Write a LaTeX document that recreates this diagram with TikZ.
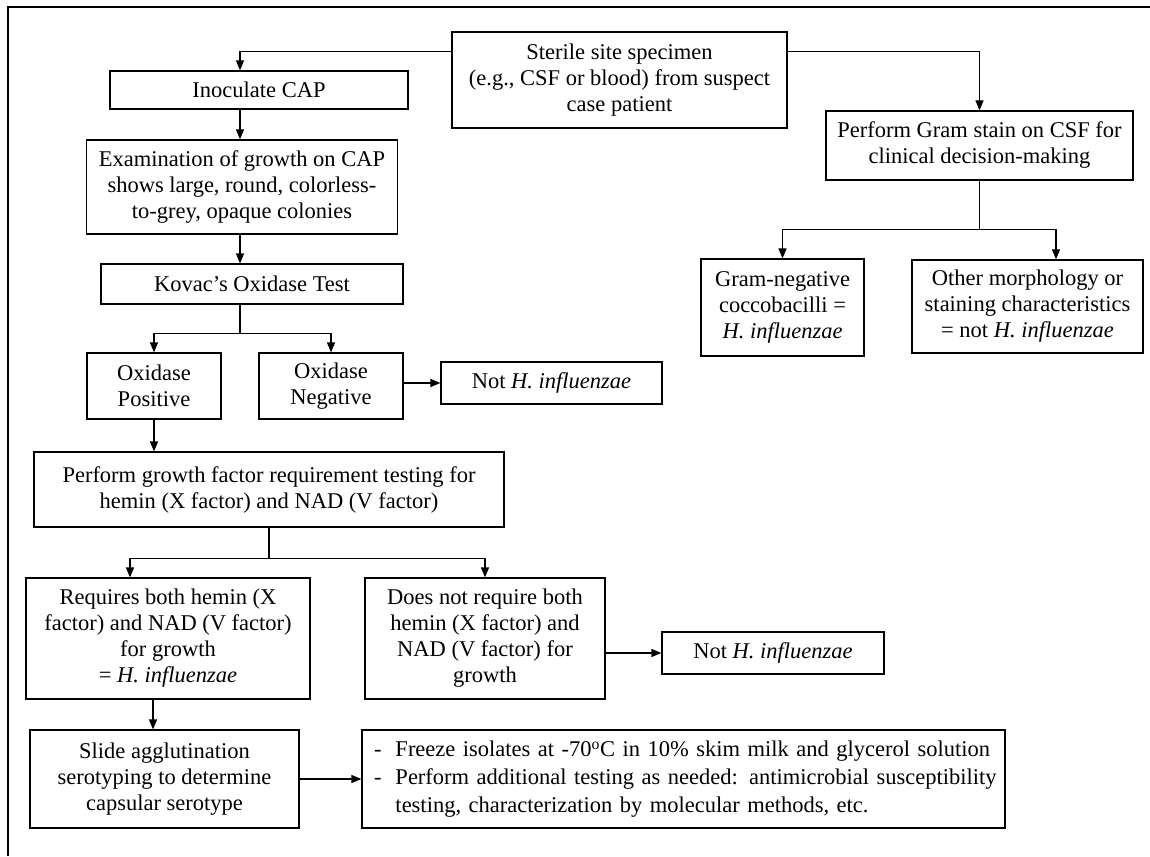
\documentclass[tikz,border=0pt]{standalone}
\usepackage{fontspec}
\setmainfont{Liberation Serif}
\usetikzlibrary{arrows.meta}

\begin{document}
\begin{tikzpicture}[x=1pt, y=-1pt, >={Triangle[length=10pt,width=8pt]}, line width=1.2pt,
    box/.style={draw, align=center, inner sep=2pt, font=\fontsize{22.5}{26}\selectfont}]
        \useasboundingbox (0,0) rectangle (1150,856);
        \draw (8,856) -- (8,7) -- (1150,7);
        % columns of the arrows
        \coordinate (c1) at (240,0);
        \coordinate (c2) at (130,0);
        \coordinate (c3) at (153,0);
        \coordinate (c4) at (1056,0);
        \node[box, minimum width=335pt, minimum height=96pt] (spec) at (619.5,80) {Sterile site specimen\\(e.g., CSF or blood) from suspect\\case patient};
        \node[box, minimum width=298pt, minimum height=38pt] (inoc) at (259,90) {Inoculate CAP};
        \node[box, minimum width=311pt, minimum height=94pt] (exam) at (242,187) {Examination of growth on CAP\\shows large, round, colorless-\\to-grey, opaque colonies};
        \node[box, minimum width=302pt, minimum height=40pt] (kov) at (252,284) {Kovac’s Oxidase Test};
        \node[box, minimum width=134pt, minimum height=66pt] (opos) at (154,386) {Oxidase\\Positive};
        \node[box, minimum width=144pt, minimum height=66pt] (oneg) at (331,386) {Oxidase\\Negative};
        \node[box, minimum width=221pt, minimum height=42pt] (not1) at (551.5,383) {Not \textit{H. influenzae}};
        \node[box, minimum width=470pt, minimum height=75pt] (grow) at (269,489.5) {Perform growth factor requirement testing for\\hemin (X factor) and NAD (V factor)};
        \node[box, minimum width=284pt, minimum height=121pt] (req) at (168,638.5) {Requires both hemin (X\\factor) and NAD (V factor)\\for growth\\= \textit{H. influenzae}};
        \node[box, minimum width=240pt, minimum height=121pt] (dnr) at (485,638.5) {Does not require both\\hemin (X factor) and\\NAD (V factor) for\\growth};
        \node[box, minimum width=222pt, minimum height=42pt] (not2) at (773,653) {Not \textit{H. influenzae}};
        \node[box, minimum width=269pt, minimum height=98pt] (slide) at (164.5,779) {Slide agglutination\\serotyping to determine\\capsular serotype};
        \node[box, minimum width=643pt, minimum height=98pt, text width=619pt, align=left, font=\fontsize{22.5}{28}\selectfont] (frz) at (683.5,779) {\begin{tabular}{@{}l@{\hspace{14pt}}l@{}}
            -&Freeze isolates at -70\textsuperscript{o}C in 10\% skim milk and glycerol solution\\
            -&Perform additional testing as needed: antimicrobial susceptibility\\
            &testing, characterization by molecular methods, etc.
          \end{tabular}};
        \node[box, minimum width=307pt, minimum height=69pt] (gram) at (979.5,145.5) {Perform Gram stain on CSF for\\clinical decision-making};
        \node[box, minimum width=163pt, minimum height=97pt] (gneg) at (782.5,307.5) {Gram-negative\\coccobacilli =\\\textit{H. influenzae}};
        \node[box, minimum width=231pt, minimum height=93pt] (other) at (1027.5,306.5) {Other morphology or\\staining characteristics\\= not \textit{H. influenzae}};
        % left branch
        \draw[->] ([yshift=-20pt]spec.north west) -| (inoc.north -| c1);
        \draw[->] (inoc.south -| c1) -- (exam.north -| c1);
        \draw[->] (exam.south -| c1) -- (kov.north -| c1);
        \draw (kov.south -| c1) -- ++(0,29) coordinate (kj);
        \draw[->] (kj) -| (opos.north);
        \draw[->] (kj) -| (oneg.north);
        \draw[->] (oneg.east |- not1.west) -- (not1.west);
        \draw[->] (opos.south) -- (grow.north -| opos.south);
        \draw (grow.south) -- ++(0,31) coordinate (gj);
        \draw[->] (gj) -| (req.north -| c2);
        \draw[->] (gj) -| (dnr.north);
        \draw[->] (dnr.east |- not2.west) -- (not2.west);
        \draw[->] (req.south -| c3) -- (slide.north -| c3);
        \draw[->] (slide.east) -- (frz.west);
        % right branch
        \draw[->] ([yshift=-20pt]spec.north east) -| (gram.north);
        \draw (gram.south) -- ++(0,49) coordinate (rj);
        \draw[->] (rj) -| (gneg.north);
        \draw[->] (rj) -| (other.north -| c4);
      \end{tikzpicture}
\end{document}
